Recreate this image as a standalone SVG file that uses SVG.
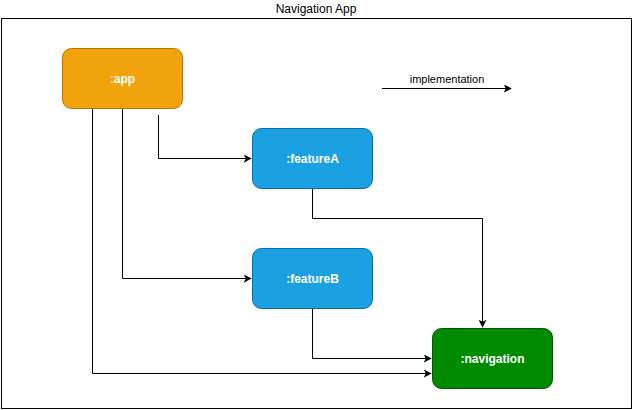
<svg xmlns="http://www.w3.org/2000/svg" width="633" height="410" viewBox="0 0 633 410">
<style>
text{font-family:"Liberation Sans",Arial,sans-serif}
.lbl{font-size:12px;font-weight:bold;fill:#ffffff;text-anchor:middle;dominant-baseline:central}
.edge{fill:none;stroke:#000;stroke-width:1;marker-end:url(#arr)}
</style>
<defs>
<marker id="arr" viewBox="0 0 10 10" refX="9" refY="5" markerWidth="8" markerHeight="8" markerUnits="userSpaceOnUse" orient="auto">
<path d="M0,0 L10,5 L0,10 L2.5,5 Z" fill="#000"/>
</marker>
</defs>
<rect fill="#fff" width="633" height="410"/>
<g id="container">
<rect x="1.5" y="18.5" width="630" height="390" fill="none" stroke="#000"/>
<text x="316" y="9" font-size="12" text-anchor="middle" dominant-baseline="central" fill="#000">Navigation App</text>
</g>
<g id="connectors">
<path class="edge" d="M158.5,115 V158.5 H251"/>
<path class="edge" d="M122.5,108 V278.5 H251"/>
<path class="edge" d="M92.5,108 V373.5 H431"/>
<path class="edge" d="M312.5,188 V218.5 H482.5 V327"/>
<path class="edge" d="M312.5,308 V358.5 H431"/>
<path class="edge" d="M382,88.5 H511"/>
<text x="447" y="79" font-size="11" text-anchor="middle" dominant-baseline="central" fill="#000">implementation</text>
</g>
<g id="app">
<rect x="62.5" y="48.5" width="120" height="60" rx="9" fill="#f0a30a" stroke="#bd7000"/>
<text class="lbl" x="122.5" y="78.5">:app</text>
</g>
<g id="featureA">
<rect x="252.5" y="128.5" width="120" height="60" rx="9" fill="#1ba1e2" stroke="#006eaf"/>
<text class="lbl" x="312.5" y="158.5">:featureA</text>
</g>
<g id="featureB">
<rect x="252.5" y="248.5" width="120" height="60" rx="9" fill="#1ba1e2" stroke="#006eaf"/>
<text class="lbl" x="312.5" y="278.5">:featureB</text>
</g>
<g id="navigation">
<rect x="432.5" y="328.5" width="120" height="60" rx="9" fill="#008a00" stroke="#005700"/>
<text class="lbl" x="492.5" y="358.5">:navigation</text>
</g>
</svg>
